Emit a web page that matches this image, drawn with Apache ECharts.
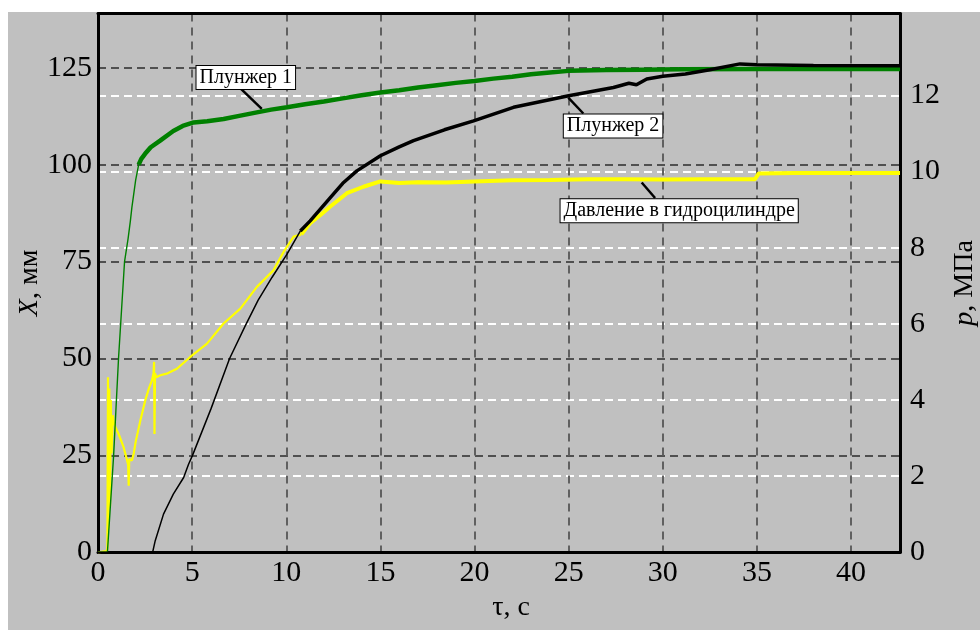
<!DOCTYPE html>
<html>
<head>
<meta charset="utf-8">
<script src="https://cdn.jsdelivr.net/npm/echarts@6/dist/echarts.min.js"></script>
<style>
html,body{margin:0;padding:0;background:#fff;}
#chart{position:absolute;left:8px;top:12px;width:972px;height:618px;}
</style>
</head>
<body>
<div id="chart"></div>
<script>
// ---- Data ----
// Плунжер 1 (X, мм, left axis)
const p1T = [0, 0.5, 0.55, 0.83, 1.09, 1.41, 1.6, 1.72, 1.8, 2.0, 2.16, 2.3, 2.5, 2.8, 3.3, 4.0, 4.5, 5.08, 5.8, 6.67, 7.5, 8.44, 9.2, 10.04, 11, 12, 13, 14, 15, 16, 17, 18, 19, 20, 21, 22, 23, 24, 25, 27, 29, 31, 35, 42.6];
const p1X = [0, 0, 0, 25, 50, 75, 81, 85.5, 89, 96, 100, 101.5, 102.8, 104.5, 106.2, 108.7, 110, 110.9, 111.2, 111.8, 112.6, 113.5, 114.2, 114.8, 115.6, 116.3, 117.1, 117.9, 118.6, 119.2, 119.9, 120.5, 121.1, 121.6, 122.2, 122.7, 123.3, 123.8, 124.2, 124.4, 124.5, 124.6, 124.7, 124.7];
// Плунжер 2 (X, мм, left axis)
const p2T = [0, 2.9, 3.04, 3.48, 4.0, 4.55, 4.81, 5.02, 6.0, 6.99, 7.82, 8.5, 9.24, 10.04, 10.75, 11.27, 12.34, 13.0, 13.75, 15, 16, 16.76, 18.4, 19.95, 22.07, 25, 27.38, 28.2, 28.6, 29.15, 30, 31.2, 32.5, 34.1, 35, 38, 42.6];
const p2X = [0, 0, 3, 9.85, 15, 19.3, 22.7, 25, 37, 50, 58.4, 65, 70.9, 76.9, 82.9, 85.5, 91.5, 95.2, 98.4, 102.3, 104.6, 106.2, 109, 111.3, 114.8, 117.8, 119.9, 121.0, 120.6, 122.1, 122.8, 123.4, 124.5, 126, 125.8, 125.6, 125.5];
// Давление в гидроцилиндре (p, МПа, right axis)
const prT = [0, 0.45, 0.5, 0.53, 0.56, 0.6, 0.64, 0.68, 0.72, 0.78, 0.85, 0.92, 1.1, 1.36, 1.5, 1.6, 1.63, 1.66, 1.8, 1.9, 2.0, 2.25, 2.51, 2.7, 2.87, 2.95, 2.98, 3.0, 3.03, 3.1, 3.31, 3.7, 4.19, 4.9, 5.79, 6.67, 7.56, 8.44, 9.33, 9.86, 10.39, 10.8, 11.27, 11.8, 12.34, 13.22, 14.1, 15, 16, 17, 18.5, 20, 22, 24, 26, 28, 30, 32, 34, 34.9, 35.1, 37, 40, 42.6];
const prP = [0, 0.03, 0.1, 4.6, 0.6, 4.3, 1.2, 4.0, 2.6, 3.6, 3.4, 3.29, 3.1, 2.76, 2.5, 2.3, 1.75, 2.45, 2.41, 2.6, 2.9, 3.46, 3.99, 4.3, 4.52, 4.7, 5.0, 3.11, 4.7, 4.6, 4.65, 4.7, 4.82, 5.13, 5.48, 6.01, 6.4, 6.97, 7.41, 7.89, 8.29, 8.35, 8.64, 8.85, 9.08, 9.43, 9.6, 9.74, 9.7, 9.72, 9.71, 9.74, 9.77, 9.78, 9.8, 9.8, 9.79, 9.8, 9.8, 9.8, 9.95, 9.96, 9.96, 9.96];

// Axis ranges and tick labels
const xRange = [0, 42.6];
const xTickValues = [0, 5, 10, 15, 20, 25, 30, 35, 40];
const leftRange = [0, 139];
const leftTickValues = [0, 25, 50, 75, 100, 125];
const rightRange = [0, 14.15];
const rightTickValues = [0, 2, 4, 6, 8, 10, 12];

// Labels
const labelP1 = 'Плунжер 1';
const labelP2 = 'Плунжер 2';
const labelPr = 'Давление в гидроцилиндре';

// ---- Build ----
function splitAt(t, v, th) {
  const a = [], b = [];
  t.forEach((x, i) => {
    if (x <= th) a.push([x, v[i]]);
    if (x >= th) b.push([x, v[i]]);
  });
  return [a, b];
}
const FONT = '"Liberation Serif","Times New Roman",serif';
const [g1, g2] = splitAt(p1T, p1X, 2.16);
const [b1, b2] = splitAt(p2T, p2X, 10.75);
const [y1, y2] = splitAt(prT, prP, 10.8);

function line(data, color, w, yIdx) {
  return { type: 'line', data, yAxisIndex: yIdx, showSymbol: false, symbol: 'none',
    lineStyle: { color, width: w }, silent: true, animation: false, z: 3 };
}

const chart = echarts.init(document.getElementById('chart'), null, { renderer: 'canvas' });
const labelStyle = { color: '#000', fontFamily: FONT, fontSize: 30 };
chart.setOption({
  backgroundColor: '#c0c0c0',
  animation: false,
  grid: { left: 90, right: 80, top: 1.5, bottom: 77.7, containLabel: false, outerBoundsMode: 'none' },
  xAxis: [{
    type: 'value', min: xRange[0], max: xRange[1],
    axisLine: { show: true, onZero: false, lineStyle: { color: '#000', width: 3 } },
    axisTick: { show: false, customValues: xTickValues },
    axisLabel: Object.assign({ margin: 6, customValues: xTickValues }, labelStyle),
    splitLine: { show: true, lineStyle: { color: '#606060', width: 2, type: [8, 6] } },
    name: 'τ, с', nameLocation: 'middle', nameGap: 40,
    nameTextStyle: { color: '#000', fontFamily: FONT, fontSize: 28, padding: [0, 0, 0, 24] }
  }, {
    type: 'value', position: 'top', min: xRange[0], max: xRange[1],
    axisLine: { show: true, onZero: false, lineStyle: { color: '#000', width: 3 } },
    axisTick: { show: false }, axisLabel: { show: false }, splitLine: { show: false }
  }],
  yAxis: [{
    type: 'value', position: 'left', min: leftRange[0], max: leftRange[1],
    axisLine: { show: true, onZero: false, lineStyle: { color: '#000', width: 3 } },
    axisTick: { show: false, customValues: leftTickValues },
    axisLabel: Object.assign({ margin: 6, customValues: leftTickValues }, labelStyle),
    splitLine: { show: true, lineStyle: { color: '#505050', width: 2, type: [8, 5] } },
    name: '{i|X}, мм', nameLocation: 'middle', nameGap: 54, nameMoveOverlap: false,
    nameTextStyle: { color: '#000', fontFamily: FONT, fontSize: 28,
      rich: { i: { fontStyle: 'italic', fontFamily: FONT, fontSize: 28, color: '#000' } } }
  }, {
    type: 'value', position: 'right', min: rightRange[0], max: rightRange[1],
    axisLine: { show: true, onZero: false, lineStyle: { color: '#000', width: 3 } },
    axisTick: { show: false, customValues: rightTickValues },
    axisLabel: Object.assign({ margin: 10, customValues: rightTickValues }, labelStyle),
    splitLine: { show: true, lineStyle: { color: '#ffffff', width: 2, type: [8, 5] } },
    name: '{i|p}, МПа', nameLocation: 'middle', nameGap: 49,
    nameTextStyle: { color: '#000', fontFamily: FONT, fontSize: 28,
      rich: { i: { fontStyle: 'italic', fontFamily: FONT, fontSize: 28, color: '#000' } } }
  }],
  series: [
    line(y1, '#ffff00', 2.2, 1),
    line(y2, '#ffff00', 4, 1),
    line(g1, '#008000', 1.4, 0),
    line(g2, '#008000', 4.5, 0),
    line(b1, '#000000', 1.5, 0),
    line(b2, '#000000', 3.5, 0)
  ]
});

// Annotation layout (left-axis data coordinates): box centre, leader start, leader end
const annLayout = [
  { text: labelP1, box: [7.85, 122.5], from: [7.54, 119.8], to: [8.7, 114.4] },
  { text: labelP2, box: [27.36, 110.0], from: [25.78, 113.2], to: [24.98, 117.3] },
  { text: labelPr, box: [30.87, 88.1], from: [29.59, 91.4], to: [28.88, 95.4] }
];
const graphics = [];
annLayout.forEach(a => {
  const c = chart.convertToPixel({ xAxisIndex: 0, yAxisIndex: 0 }, a.box);
  const f = chart.convertToPixel({ xAxisIndex: 0, yAxisIndex: 0 }, a.from);
  const t = chart.convertToPixel({ xAxisIndex: 0, yAxisIndex: 0 }, a.to);
  graphics.push({ type: 'line', z: 10, shape: { x1: f[0], y1: f[1], x2: t[0], y2: t[1] },
    style: { stroke: '#000', lineWidth: 2.5 } });
  graphics.push({ type: 'text', z: 11, x: c[0], y: c[1],
    style: { text: a.text, font: '20px ' + FONT, fill: '#000', align: 'center', verticalAlign: 'middle',
      backgroundColor: '#fff', borderColor: '#000', borderWidth: 1, padding: [2, 3, 1, 3] } });
});
chart.setOption({ graphic: graphics });
</script>
</body>
</html>
